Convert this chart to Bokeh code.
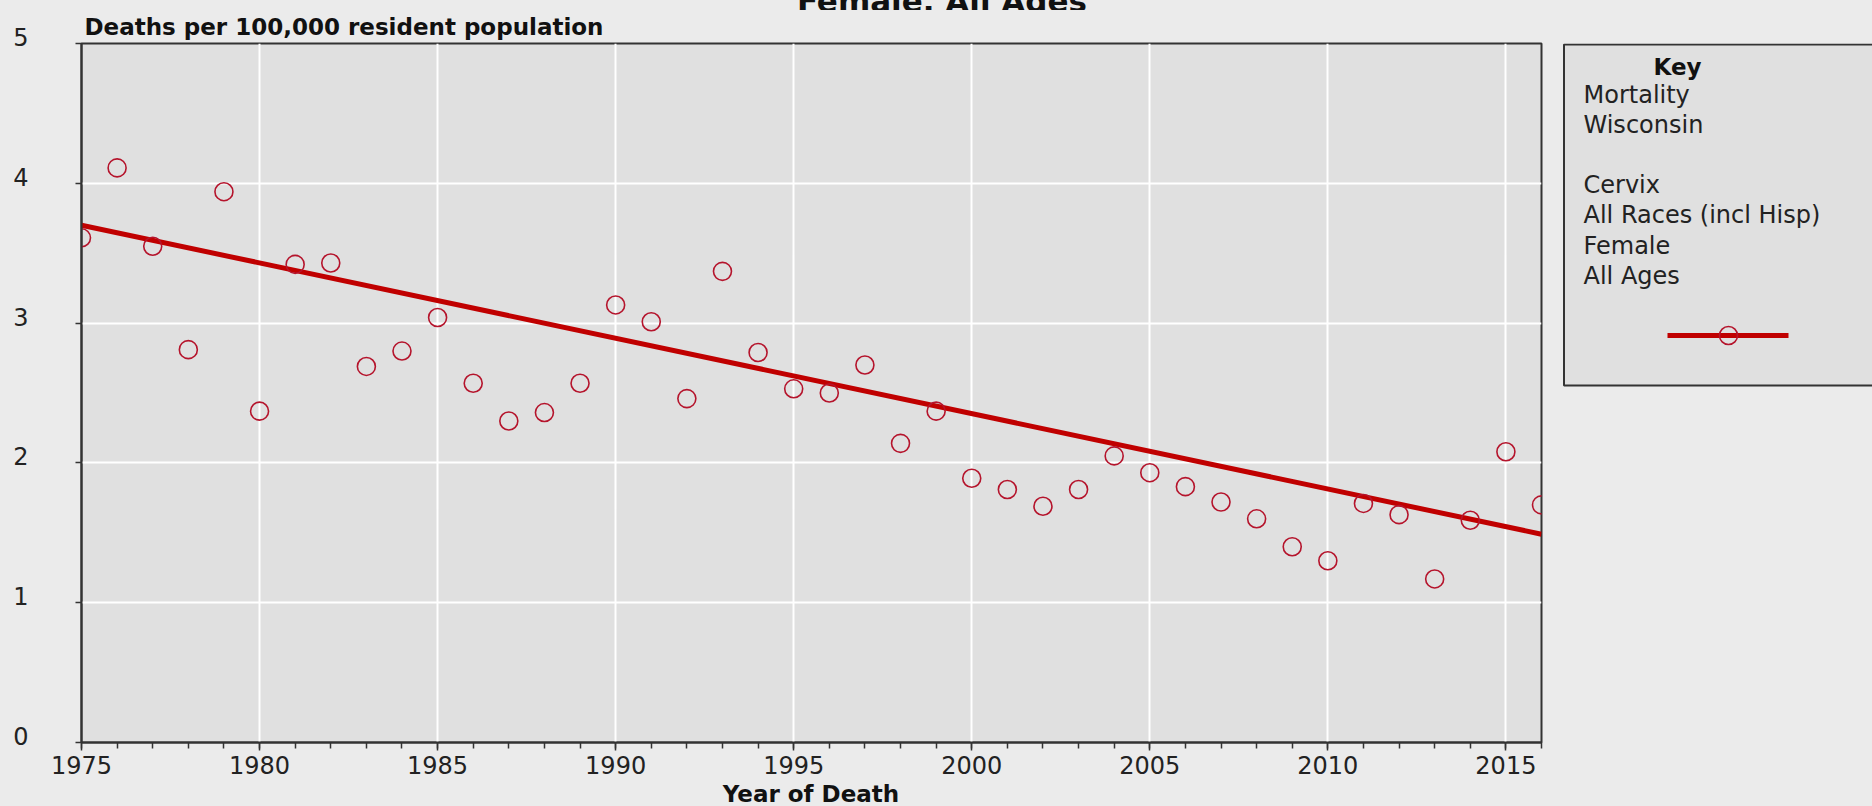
from bokeh.plotting import figure
from bokeh.layouts import row, column
from bokeh.models import Range1d, SingleIntervalTicker, Div, CustomJSTickFormatter
from bokeh.core.properties import value
from bokeh.embed import file_html
from bokeh.resources import INLINE

# Cervix cancer mortality, Wisconsin, all races (incl. Hispanic), female, all ages
years = [1975, 1976, 1977, 1978, 1979, 1980, 1981, 1982, 1983, 1984,
         1985, 1986, 1987, 1988, 1989, 1990, 1991, 1992, 1993, 1994,
         1995, 1996, 1997, 1998, 1999, 2000, 2001, 2002, 2003, 2004,
         2005, 2006, 2007, 2008, 2009, 2010, 2011, 2012, 2013, 2014,
         2015, 2016]
rates = [3.61, 4.11, 3.55, 2.81, 3.94, 2.37, 3.42, 3.43, 2.69, 2.80,
         3.04, 2.57, 2.30, 2.36, 2.57, 3.13, 3.01, 2.46, 3.37, 2.79,
         2.53, 2.50, 2.70, 2.14, 2.37, 1.89, 1.81, 1.69, 1.81, 2.05,
         1.93, 1.83, 1.72, 1.60, 1.40, 1.30, 1.71, 1.63, 1.17, 1.59,
         2.08, 1.70]

# fitted trend, endpoints
trend_years = [1975, 2016]
trend_rates = [3.70, 1.49]

key_lines = ["Mortality", "Wisconsin", "", "Cervix", "All Races (incl Hisp)",
             "Female", "All Ages"]

PAGE_BG = "#ebebeb"
PLOT_BG = "#e0e0e0"
AXIS = "#333333"
TEXT = "#222222"
TREND_RED = "#c00000"
POINT_RED = "#b5142c"
FONT = "DejaVu Sans"

HEADER_H = 10
FOOTER_H = 24

# chart heading, only its lower part shows at the top edge of the page
header = Div(
    text=('<div style="margin:-18px 0 0 12px; width:1860px; text-align:center; '
          'font-family:\'DejaVu Sans\'; font-weight:bold; font-size:31px; '
          'line-height:31px; color:#111111; white-space:nowrap;">'
          'Female, All Ages</div>'),
    width=1872, height=HEADER_H, margin=0,
    styles={"overflow": "hidden", "background-color": PAGE_BG})

# x axis title, centred under the plotting area
footer = Div(
    text=('<div style="width:1622px; text-align:center; '
          'font-family:\'DejaVu Sans\'; font-weight:bold; font-size:23px; '
          'line-height:24px; color:#111111; white-space:nowrap;">'
          'Year of Death</div>'),
    width=1872, height=FOOTER_H, margin=0,
    styles={"overflow": "hidden", "background-color": PAGE_BG})

PLOT_H = 806 - HEADER_H - FOOTER_H

p = figure(width=1552, height=PLOT_H,
           x_range=Range1d(1975, 2016), y_range=Range1d(0, 5),
           output_backend="svg", toolbar_location=None,
           background_fill_color=PLOT_BG, border_fill_color=PAGE_BG,
           min_border_left=81, min_border_right=11,
           min_border_top=43 - HEADER_H, min_border_bottom=PLOT_H - 699 - (43 - HEADER_H))

p.outline_line_color = AXIS
p.outline_line_width = 2

p.title.text = "Deaths per 100,000 resident population"
p.title.align = "left"
p.title.offset = 3
p.title.vertical_align = "top"
p.title.standoff = 3
p.title.text_font = FONT
p.title.text_font_style = "bold"
p.title.text_font_size = "23px"
p.title.text_color = "#111111"

# axes
p.xaxis.ticker = SingleIntervalTicker(interval=5, num_minor_ticks=5)
p.yaxis.ticker = SingleIntervalTicker(interval=1, num_minor_ticks=0)

for ax in (p.xaxis, p.yaxis):
    ax.axis_line_color = AXIS
    ax.axis_line_width = 2
    ax.major_tick_line_color = AXIS
    ax.major_tick_line_width = 1.5
    ax.minor_tick_line_color = AXIS
    ax.minor_tick_line_width = 1.5
    ax.major_tick_in = 0
    ax.minor_tick_in = 0
    ax.major_label_text_font = FONT
    ax.major_label_text_font_size = "24px"
    ax.major_label_text_color = TEXT

p.xaxis.major_tick_out = 8
p.xaxis.minor_tick_out = 6
p.xaxis.major_label_standoff = 5

p.yaxis.major_tick_out = 6
p.yaxis.minor_tick_out = 0
p.yaxis.major_label_standoff = 47
# value labels sit a little above their tick: a trailing empty line with a
# tight line height lifts the visible digit
p.yaxis.formatter = CustomJSTickFormatter(code="return tick.toFixed(0) + '\\n';")
p.yaxis.major_label_text_line_height = 0.4

for g in (p.xgrid, p.ygrid):
    g.grid_line_color = "white"
    g.grid_line_width = 2

# trend line and yearly rates
p.line(trend_years, trend_rates, line_color=TREND_RED, line_width=5)
p.scatter(years, rates, marker="circle", size=18, fill_color=None,
          line_color=POINT_RED, line_width=1.6)

# key panel; its frame lines up with the chart frame (page y 43..742),
# so the y range is expressed in page pixels growing downward
leg = figure(width=320, height=PLOT_H,
             x_range=Range1d(0, 320), y_range=Range1d(742, 43),
             x_axis_type=None, y_axis_type=None,
             output_backend="svg", toolbar_location=None,
             background_fill_color=PAGE_BG, border_fill_color=PAGE_BG,
             min_border=0)
leg.outline_line_color = None
leg.xgrid.visible = False
leg.ygrid.visible = False

leg.quad(left=[11.5], right=[330], top=[44], bottom=[385],
         fill_color=PLOT_BG, line_color=AXIS, line_width=2)
leg.text(x=[101], y=[66], text=["Key"], text_font=value(FONT),
         text_font_style="bold", text_font_size="23px",
         text_color="#111111", text_baseline="alphabetic")
key_y = [94 + 30.2 * i for i in range(len(key_lines))]
leg.text(x=[31] * len(key_lines), y=key_y, text=key_lines,
         text_font=value(FONT), text_font_size="24px",
         text_color=TEXT, text_baseline="alphabetic")
leg.line([115, 236], [335, 335], line_color=TREND_RED, line_width=5)
leg.scatter([176], [335], marker="circle", size=18, fill_color=None,
            line_color=POINT_RED, line_width=1.6)

body = row(p, leg, spacing=0, styles={"background-color": PAGE_BG})
layout = column(header, body, footer, spacing=0,
                styles={"background-color": PAGE_BG})

open("out.html", "w").write(file_html(layout, INLINE))
